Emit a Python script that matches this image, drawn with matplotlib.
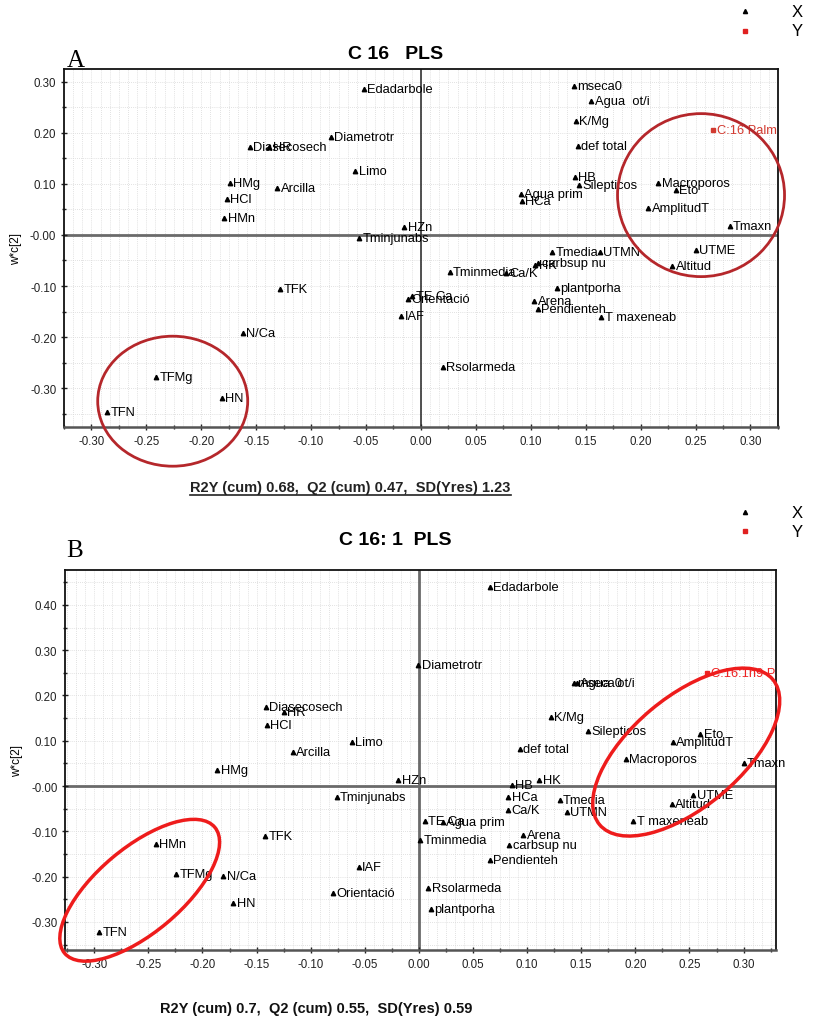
import numpy as np
import matplotlib
matplotlib.use("Agg")
import matplotlib.pyplot as plt
import matplotlib.transforms as mtransforms
from matplotlib.patches import Ellipse
from matplotlib.lines import Line2D

plt.rcParams['font.family'] = ['Liberation Sans', 'DejaVu Sans']

# ---- Panel A data (C 16 PLS) ----
names_a = ['Edadarbole', 'Diametrotr', 'Diasecosech', 'HR', 'Limo', 'HMg', 'Arcilla', 'HCl',
           'HMn', 'HZn', 'Tminjunabs', 'mseca0', 'Agua  ot/i', 'K/Mg', 'def total', 'HB',
           'Silepticos', 'Agua prim', 'HCa', 'Macroporos', 'Eto', 'AmplitudT', 'Tmaxn',
           'Tmedia', 'UTMN', 'UTME', 'Altitud', 'Tminmedia', 'Ca/K', 'HK', 'carbsup nu',
           'plantporha', 'Arena', 'Pendienteh', 'T maxeneab', 'Rsolarmeda', 'Orientació',
           'TE Ca', 'IAF', 'TFK', 'N/Ca', 'TFMg', 'HN', 'TFN']
x_a = [-0.052, -0.082, -0.156, -0.138, -0.060, -0.174, -0.131, -0.177,
       -0.179, -0.015, -0.056, 0.139, 0.155, 0.141, 0.143, 0.140,
       0.144, 0.091, 0.092, 0.216, 0.232, 0.207, 0.281,
       0.1195, 0.163, 0.250, 0.229, 0.026, 0.077, 0.104, 0.107,
       0.124, 0.103, 0.1065, 0.164, 0.020, -0.012,
       -0.008, -0.018, -0.128, -0.162, -0.241, -0.1815, -0.2856]
y_a = [0.285, 0.192, 0.173, 0.172, 0.125, 0.102, 0.092, 0.071,
       0.033, 0.015, -0.005, 0.292, 0.262, 0.223, 0.175, 0.113,
       0.098, 0.080, 0.067, 0.102, 0.088, 0.052, 0.018,
       -0.033, -0.033, -0.029, -0.061, -0.072, -0.075, -0.058, -0.055,
       -0.103, -0.129, -0.144, -0.161, -0.258, -0.125,
       -0.119, -0.158, -0.106, -0.191, -0.278, -0.320, -0.346]
yname_a = ['C:16 Palm']
yx_a = [0.266]
yy_a = [0.206]

# ---- Panel B data (C 16:1 PLS) ----
names_b = ['Edadarbole', 'Diametrotr', 'mseca0', 'Agua  ot/i', 'K/Mg', 'Silepticos', 'Eto',
           'AmplitudT', 'def total', 'Macroporos', 'Tmaxn', 'HK', 'HB', 'UTME', 'HCa', 'Ca/K',
           'Tmedia', 'UTMN', 'Altitud', 'T maxeneab', 'TE Ca', 'Agua prim', 'Tminmedia',
           'Arena', 'carbsup nu', 'Pendienteh', 'Rsolarmeda', 'plantporha', 'Diasecosech',
           'HR', 'HCl', 'Limo', 'Arcilla', 'HMg', 'HZn', 'Tminjunabs', 'TFK', 'HMn', 'IAF',
           'TFMg', 'N/Ca', 'Orientació', 'HN', 'TFN']
x_b = [0.0656, -0.0006, 0.143, 0.146, 0.122, 0.1565, 0.260,
       0.2345, 0.093, 0.191, 0.300, 0.111, 0.086, 0.2535, 0.0826, 0.0826,
       0.130, 0.1365, 0.2335, 0.198, 0.0055, 0.022, 0.001,
       0.0964, 0.0835, 0.0656, 0.0086, 0.0108, -0.1414,
       -0.1248, -0.1408, -0.0622, -0.1167, -0.1864, -0.019, -0.076, -0.1423, -0.2434, -0.0555,
       -0.224, -0.1809, -0.0798, -0.1716, -0.2955]
y_b = [0.439, 0.267, 0.227, 0.228, 0.152, 0.121, 0.116,
       0.098, 0.082, 0.060, 0.050, 0.014, 0.002, -0.020, -0.025, -0.052,
       -0.030, -0.058, -0.040, -0.077, -0.077, -0.080, -0.119,
       -0.108, -0.1295, -0.163, -0.225, -0.2715, 0.174,
       0.164, 0.135, 0.098, 0.076, 0.036, 0.014, -0.025, -0.111, -0.128, -0.178,
       -0.194, -0.199, -0.235, -0.259, -0.323]
yname_b = ['C:16:1n9 Palm']
yx_b = [0.2665]
yy_b = [0.249]

fig = plt.figure(figsize=(8.18, 10.2), dpi=100)
ax_a = fig.add_axes([0.0782, 0.5804, 0.8728, 0.351])
ax_b = fig.add_axes([0.0795, 0.0676, 0.8692, 0.3726])


def draw_panel(ax, names, xs, ys, ynames, yxs, yys, xlim, ylim, yticks, ycolor, vzero):
    ax.set_xlim(*xlim)
    ax.set_ylim(*ylim)
    # dense dotted grid
    for gx in np.arange(-0.325, 0.34, 0.025 / 3):
        ax.axvline(gx, color='#d8d8d8', lw=0.6, ls=(0, (1, 1.5)), zorder=0)
    for gy in np.arange(-0.40, 0.50, 0.05):
        ax.axhline(gy, color='#d8d8d8', lw=0.6, ls=(0, (1, 1.5)), zorder=0)
    ax.axhline(0, color='#6a6a6a', lw=2.0, zorder=1)
    ax.axvline(0, color=vzero[0], lw=vzero[1], zorder=1)
    ax.plot(xs, ys, ls='none', marker='^', ms=3.2, color='black', zorder=3)
    for n, x, y in zip(names, xs, ys):
        ax.annotate(n, (x, y), xytext=(2.5, 0), textcoords='offset points',
                    va='center', ha='left', fontsize=9.3, zorder=4)
    ax.plot(yxs, yys, ls='none', marker='s', ms=3.2, color=ycolor, zorder=3)
    for n, x, y in zip(ynames, yxs, yys):
        ax.annotate(n, (x, y), xytext=(2.5, 0), textcoords='offset points',
                    va='center', ha='left', fontsize=9.3, color=ycolor, zorder=4,
                    annotation_clip=True, clip_on=True)
    xt = np.arange(-0.30, 0.301, 0.05)
    ax.set_xticks(xt)
    ax.set_xticklabels(['%.2f' % v if abs(v) > 1e-9 else '0.00' for v in xt])
    ax.set_xticks(np.arange(-0.325, 0.33, 0.025), minor=True)
    ax.set_yticks(yticks)
    ax.set_yticklabels(['%.2f' % v if abs(v) > 1e-9 else '-0.00' for v in yticks])
    ax.set_yticks(np.arange(-0.35, ylim[1], 0.05), minor=True)
    ax.tick_params(which='both', direction='inout', length=4, width=1, labelsize=8.3,
                   colors='#222222')
    ax.tick_params(which='minor', length=3)
    for s in ax.spines.values():
        s.set_linewidth(1.3)
        s.set_color('#111111')
    ax.spines['bottom'].set_color('#555555')
    ax.spines['bottom'].set_linewidth(1.8)
    ax.set_ylabel('w*c[2]', fontsize=8.5, labelpad=6)


draw_panel(ax_a, names_a, x_a, y_a, yname_a, yx_a, yy_a, (-0.315, 0.309), (-0.376, 0.325),
           np.arange(-0.30, 0.301, 0.10), '#d23a30', ('#333333', 1.2))
draw_panel(ax_b, names_b, x_b, y_b, yname_b, yx_b, yy_b, (-0.327, 0.330), (-0.362, 0.477),
           np.arange(-0.30, 0.401, 0.10), '#ee2222', ('#6a6a6a', 2.0))


def px_ellipse(ax, cx, cy, w_px, h_px, angle, color, lw):
    tr = fig.dpi_scale_trans + mtransforms.ScaledTranslation(cx, cy, ax.transData)
    e = Ellipse((0, 0), w_px / 100.0, h_px / 100.0, angle=angle, transform=tr,
                fill=False, ec=color, lw=lw, clip_on=False, zorder=5)
    ax.add_artist(e)


# circles marking groups
px_ellipse(ax_a, -0.226, -0.3255, 150, 130, 0, '#b5272b', 2.0)
px_ellipse(ax_a, 0.255, 0.078, 167, 163, 0, '#b5272b', 2.0)
px_ellipse(ax_b, -0.258, -0.230, 196, 85, 40, '#ee1c1c', 2.5)
px_ellipse(ax_b, 0.247, 0.075, 226, 110, 40, '#ee1c1c', 2.5)

# titles, panel letters
fig.text(0.483, 0.947, 'C 16   PLS', ha='center', va='center', fontsize=14, fontweight='bold')
fig.text(0.483, 0.470, 'C 16: 1  PLS', ha='center', va='center', fontsize=14, fontweight='bold')
fig.text(0.081, 0.940, 'A', ha='left', va='center', fontsize=18, family='Liberation Serif')
fig.text(0.081, 0.460, 'B', ha='left', va='center', fontsize=18, family='Liberation Serif')

# X / Y legends
for yx, yy in [(0.988, 0.969), (0.497, 0.478)]:
    fig.add_artist(Line2D([0.911], [yx], marker='^', ms=3, color='black', ls='none',
                          transform=fig.transFigure))
    fig.add_artist(Line2D([0.911], [yy], marker='s', ms=3, color='#e02020', ls='none',
                          transform=fig.transFigure))
    fig.text(0.975, yx, 'X', ha='center', va='center', fontsize=12)
    fig.text(0.975, yy, 'Y', ha='center', va='center', fontsize=12)

# model statistics
ta = fig.text(0.2325, 0.522, 'R2Y (cum) 0.68,  Q2 (cum) 0.47,  SD(Yres) 1.23', ha='left',
              va='center', fontsize=10.5, fontweight='bold', color='#222222')
fig.text(0.196, 0.011, 'R2Y (cum) 0.7,  Q2 (cum) 0.55,  SD(Yres) 0.59', ha='left',
         va='center', fontsize=10.5, fontweight='bold', color='#111111')

fig.canvas.draw()
bb = ta.get_window_extent().transformed(fig.transFigure.inverted())
fig.add_artist(Line2D([bb.x0, bb.x1], [bb.y0 - 0.001, bb.y0 - 0.001], color='#222222', lw=1.2,
                      transform=fig.transFigure))

fig.savefig('out.png', dpi=100)
